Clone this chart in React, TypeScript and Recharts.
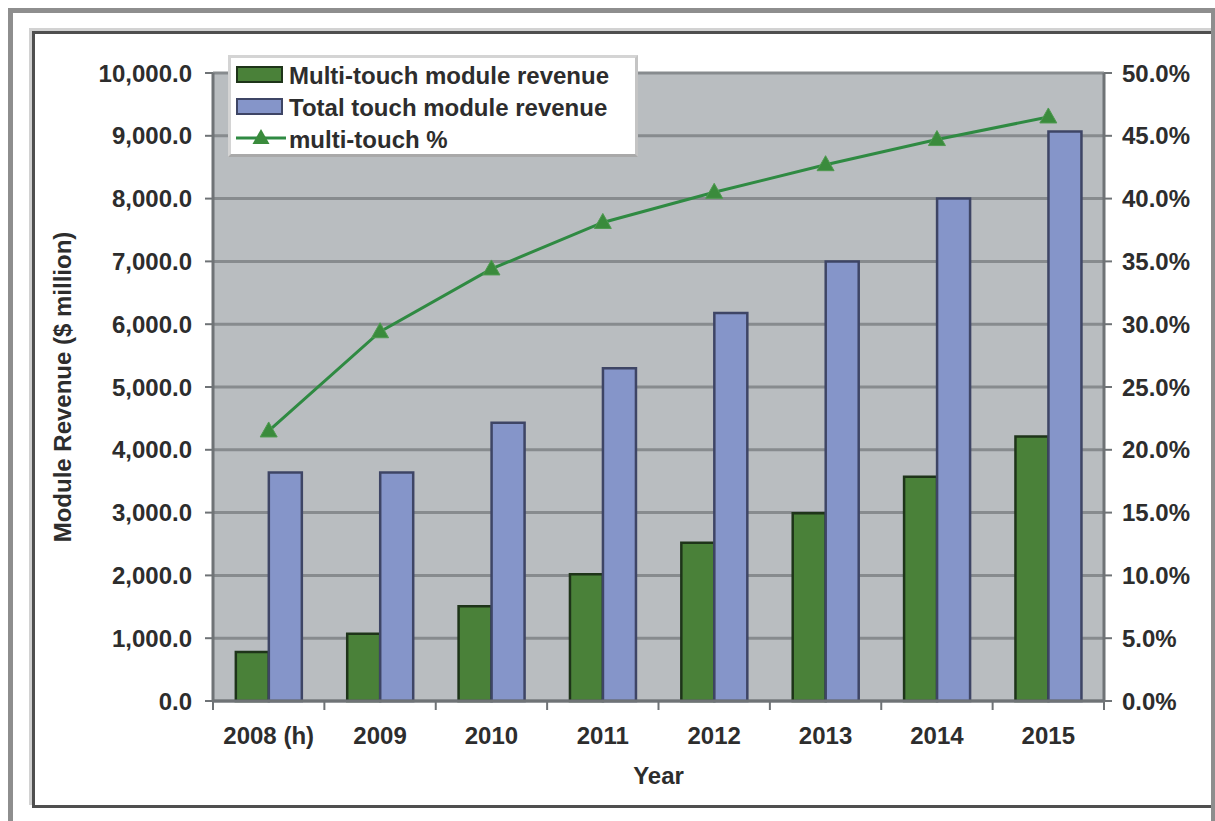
import React from 'react';
import { ComposedChart, Bar, Line, XAxis, YAxis, CartesianGrid } from 'recharts';

const categories = ['2008 (h)', '2009', '2010', '2011', '2012', '2013', '2014', '2015'];
const multiTouchRevenue = [780, 1070, 1510, 2020, 2520, 2990, 3570, 4210];
const totalTouchRevenue = [3640, 3640, 4430, 5300, 6180, 7000, 8000, 9070];
const multiTouchPct = [21.5, 29.4, 34.4, 38.1, 40.5, 42.7, 44.7, 46.5];
const leftTicks = [0, 1000, 2000, 3000, 4000, 5000, 6000, 7000, 8000, 9000, 10000];
const rightTicks = [0, 5, 10, 15, 20, 25, 30, 35, 40, 45, 50];
const seriesNames = ['Multi-touch module revenue', 'Total touch module revenue', 'multi-touch %'];
const xAxisTitle = 'Year';
const yAxisTitle = 'Module Revenue ($ million)';

const data = categories.map((c, i) => ({
  cat: c,
  multi: multiTouchRevenue[i],
  total: totalTouchRevenue[i],
  pct: multiTouchPct[i],
}));

const W = 1215;
const H = 821;
const PLOT_TOP = 73;
const LEFT_W = 213;
const RIGHT_W = 111;
const X_H = 120;
const BAND = (W - LEFT_W - RIGHT_W) / categories.length;

const FONT = '"Liberation Sans", Arial, Helvetica, sans-serif';
const TXT = '#2d2d2d';
const GREEN = '#4a8139';
const GREEN_STROKE = '#1e3419';
const BLUE = '#8595c9';
const BLUE_STROKE = '#3e4565';
const LINE_GREEN = '#2f8a42';
const AXIS = '#6f7376';

const fmtLeft = (v: number) =>
  v.toLocaleString('en-US', { minimumFractionDigits: 1, maximumFractionDigits: 1 });
const fmtRight = (v: number) => `${v.toFixed(1)}%`;

const Triangle = (props: any) => {
  const { cx, cy, index } = props;
  if (cx == null || cy == null) return <g key={`t-${index}`} />;
  return (
    <path
      key={`t-${index}`}
      d={`M${cx},${cy - 9} L${cx + 8.5},${cy + 6} L${cx - 8.5},${cy + 6} Z`}
      fill="#3a8b3c"
      stroke="#4f9a50"
      strokeWidth={1}
    />
  );
};

const XTick = (props: any) => {
  const { x, y, payload, index } = props;
  const half = BAND / 2;
  return (
    <g>
      <line x1={x - half} x2={x - half} y1={y} y2={y + 9} stroke={AXIS} strokeWidth={2} />
      {index === categories.length - 1 && (
        <line x1={x + half} x2={x + half} y1={y} y2={y + 9} stroke={AXIS} strokeWidth={2} />
      )}
      <text
        x={x}
        y={y + 34}
        dy="0.355em"
        textAnchor="middle"
        fill={TXT}
        fontFamily={FONT}
        fontWeight={700}
        fontSize={24}
      >
        {payload.value}
      </text>
    </g>
  );
};

const LegendBox = () => (
  <div
    style={{
      position: 'absolute',
      left: 228,
      top: 55,
      width: 404,
      height: 96,
      background: '#ffffff',
      border: '3px solid #d4d4d4',
      borderBottomColor: '#a9a9a9',
      borderRightColor: '#c4c4c4',
      fontFamily: FONT,
      fontWeight: 700,
      fontSize: 24,
      color: TXT,
    }}
  >
    <svg width={404} height={96} style={{ position: 'absolute', left: 0, top: 0 }}>
      <rect x={6} y={9} width={45} height={15} fill={GREEN} stroke={GREEN_STROKE} strokeWidth={2} />
      <rect x={6} y={41} width={45} height={15} fill={BLUE} stroke={BLUE_STROKE} strokeWidth={2} />
      <line x1={5} x2={55} y1={80} y2={80} stroke={LINE_GREEN} strokeWidth={3} />
      <path d="M30,71 L38.5,86 L21.5,86 Z" fill="#3a8b3c" />
      {seriesNames.map((n, i) => (
        <text
          key={n}
          x={58}
          y={17 + i * 32}
          dy="0.355em"
          fill={TXT}
          fontFamily={FONT}
          fontWeight={700}
          fontSize={24}
        >
          {n}
        </text>
      ))}
    </svg>
  </div>
);

export default function App() {
  return (
    <div
      style={{
        position: 'absolute',
        left: 0,
        top: 0,
        width: W,
        height: H,
        overflow: 'hidden',
        background: '#ffffff',
      }}
    >
      <ComposedChart
        width={W}
        height={H}
        data={data}
        margin={{ top: PLOT_TOP, right: 0, bottom: 0, left: 0 }}
        barCategoryGap="20.5%"
        barGap={0}
      >
        <CartesianGrid
          yAxisId="left"
          vertical={false}
          horizontal={true}
          fill="#b9bdc0"
          fillOpacity={1}
          stroke="#878b8e"
          strokeWidth={3}
        />
        <XAxis
          dataKey="cat"
          height={X_H}
          tickSize={0}
          tickMargin={0}
          tickLine={false}
          interval={0}
          axisLine={{ stroke: AXIS, strokeWidth: 3 }}
          tick={<XTick />}
          label={{
            content: (p: any) => {
              const vb = p.viewBox || { x: LEFT_W, y: H - X_H, width: W - LEFT_W - RIGHT_W };
              return (
                <text
                  x={vb.x + vb.width / 2}
                  y={vb.y + 74}
                  dy="0.355em"
                  textAnchor="middle"
                  fill={TXT}
                  fontFamily={FONT}
                  fontWeight={700}
                  fontSize={24}
                >
                  {xAxisTitle}
                </text>
              );
            },
          }}
        />
        <YAxis
          yAxisId="left"
          width={LEFT_W}
          domain={[0, 10000]}
          ticks={leftTicks}
          interval={0}
          tickFormatter={fmtLeft}
          tickSize={8}
          tickMargin={13}
          tickLine={{ stroke: AXIS, strokeWidth: 2 }}
          axisLine={{ stroke: AXIS, strokeWidth: 3 }}
          tick={{ fill: TXT, fontFamily: FONT, fontWeight: 700, fontSize: 24 }}
          label={{
            content: (p: any) => {
              const vb = p.viewBox || { x: 0, y: PLOT_TOP, height: H - PLOT_TOP - X_H };
              const cx = vb.x + 62;
              const cy = vb.y + vb.height / 2;
              return (
                <text
                  x={cx}
                  y={cy}
                  dy="0.355em"
                  transform={`rotate(-90 ${cx} ${cy})`}
                  textAnchor="middle"
                  fill={TXT}
                  fontFamily={FONT}
                  fontWeight={700}
                  fontSize={24}
                >
                  {yAxisTitle}
                </text>
              );
            },
          }}
        />
        <YAxis
          yAxisId="right"
          orientation="right"
          width={RIGHT_W}
          domain={[0, 50]}
          ticks={rightTicks}
          interval={0}
          tickFormatter={fmtRight}
          tickSize={8}
          tickMargin={10}
          tickLine={{ stroke: AXIS, strokeWidth: 2 }}
          axisLine={{ stroke: AXIS, strokeWidth: 3 }}
          tick={{ fill: TXT, fontFamily: FONT, fontWeight: 700, fontSize: 24 }}
        />
        <Bar
          yAxisId="left"
          dataKey="multi"
          name={seriesNames[0]}
          fill={GREEN}
          stroke={GREEN_STROKE}
          strokeWidth={2.5}
          isAnimationActive={false}
        />
        <Bar
          yAxisId="left"
          dataKey="total"
          name={seriesNames[1]}
          fill={BLUE}
          stroke={BLUE_STROKE}
          strokeWidth={2.5}
          isAnimationActive={false}
        />
        <Line
          yAxisId="right"
          dataKey="pct"
          name={seriesNames[2]}
          type="linear"
          stroke={LINE_GREEN}
          strokeWidth={3}
          dot={<Triangle />}
          activeDot={false}
          isAnimationActive={false}
        />
      </ComposedChart>
      <LegendBox />
      {/* outer gray frame */}
      <div
        style={{
          position: 'absolute',
          left: 8,
          top: 8,
          width: W - 8 - 9,
          height: 900,
          borderLeft: '5px solid #8e8e8e',
          borderTop: '5px solid #8e8e8e',
          borderRight: '4px solid #8e8e8e',
          pointerEvents: 'none',
        }}
      />
      {/* inner dark frame */}
      <div
        style={{
          position: 'absolute',
          left: 29,
          top: 28,
          width: 1211 - 29 - 3,
          height: 808 - 28 - 6,
          borderLeft: '3px solid #d2d2d2',
          borderTop: '3px solid #d2d2d2',
          pointerEvents: 'none',
        }}
      />
      <div
        style={{
          position: 'absolute',
          left: 32,
          top: 31,
          width: 1211 - 32 - 3,
          height: 808 - 31 - 6,
          borderLeft: '3px solid #4f4f4f',
          borderTop: '3px solid #4f4f4f',
          borderBottom: '3px solid #4f4f4f',
          pointerEvents: 'none',
        }}
      />
    </div>
  );
}
